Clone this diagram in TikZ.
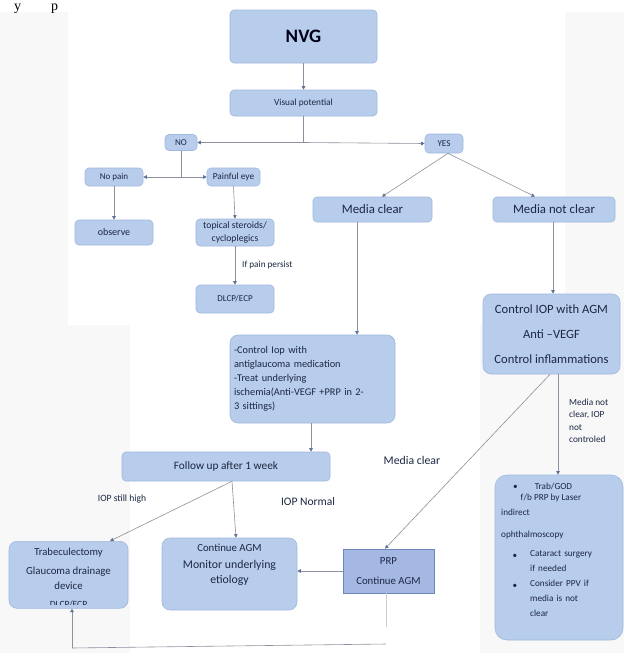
\documentclass[tikz,border=0pt]{standalone}
\usepackage{fontspec}
\setmainfont{Carlito}
\newfontfamily\serifface{Liberation Serif}
\usetikzlibrary{arrows.meta}
\definecolor{boxfill}{HTML}{B7CDEB}
\definecolor{boxline}{HTML}{A0B8DE}
\definecolor{txt}{HTML}{1C2742}
\definecolor{lin}{HTML}{8F909E}
\definecolor{tipc}{HTML}{5F7397}
\definecolor{prpfill}{HTML}{A5B8E3}
\definecolor{prpline}{HTML}{6E86BA}
\definecolor{pagebg}{HTML}{F8F8F8}
\tikzset{
  box/.style={draw=boxline, fill=boxfill, rounded corners=4pt, text=txt, align=center, inner sep=1pt, line width=0.6pt},
  bigbox/.style={box, rounded corners=8pt},
  conn/.style={draw=lin, line width=0.6pt},
  arr/.style={conn, -{Triangle[length=3.5pt,width=3.5pt,color=tipc]}},
  lbl/.style={text=txt, inner sep=0pt},
  fs/.style={font=\fontsize{#1}{12}\selectfont}
}
\begin{document}
\begin{tikzpicture}[x=1pt,y=-1pt]
\useasboundingbox (0,0) rectangle (624,653);
\fill[pagebg] (0,12) rectangle (624,653);
\fill[white] (68,12) rectangle (565,325);
\fill[white] (130,325) rectangle (480,653);
\node[lbl, font=\serifface\fontsize{14}{14}\selectfont, anchor=base west, text=black] (frag) at (14,10) {y\hspace{30pt}p};

% nodes
\node[box, minimum width=147pt, minimum height=53pt, text=black!90!blue, font=\bfseries\fontsize{19}{22}\selectfont] (nvg) at (303.5,36.5) {NVG};
\node[box, minimum width=147pt, minimum height=26pt, fs=9.3] (vp) at (303.5,103) {Visual potential};
\node[box, minimum width=32pt, minimum height=16pt, fs=9] (no) at (181,142.5) {NO};
\node[box, minimum width=38pt, minimum height=19pt, fs=9] (yes) at (444,143.5) {YES};
\node[box, minimum width=58pt, minimum height=18pt, fs=9] (nopain) at (114,177) {No pain};
\node[box, minimum width=53pt, minimum height=18pt, fs=9.3] (painful) at (233.5,177) {Painful eye};
\node[box, minimum width=78pt, minimum height=25pt, fs=10] (observe) at (114,232.5) {observe};
\node[box, minimum width=78pt, minimum height=27pt, font=\fontsize{9.7}{12.5}\selectfont] (topical) at (235,232.5) {topical steroids/\\cycloplegics};
\node[box, minimum width=78pt, minimum height=28pt, fs=9] (dlcp) at (235,299) {DLCP/ECP};
\node[lbl, fs=9.2, anchor=west] (ifpain) at (242,265) {If pain persist};
\node[box, minimum width=119pt, minimum height=25pt, fs=12.8] (mc) at (372.5,209.5) {Media clear};
\node[box, minimum width=122pt, minimum height=25pt, fs=12.8] (mnc) at (554,209.5) {Media not clear};
\node[bigbox, minimum width=137pt, minimum height=80pt, font=\fontsize{12.6}{25}\selectfont] (ctrl) at (551.5,334) {Control IOP with AGM\\Anti --VEGF\\Control inflammations};
\node[bigbox, minimum width=165pt, minimum height=88pt, text width=157pt, align=left, font=\fontsize{10.3}{14}\selectfont] (big) at (312.5,379) {-Control Iop with\\antiglaucoma medication\\-Treat underlying\\ischemia(Anti-VEGF +PRP in 2-\\3 sittings)};
\node[box, minimum width=208pt, minimum height=29pt, fs=11.3] (follow) at (226,466.5) {Follow up after 1 week};
\node[lbl, fs=9.6] (high) at (122,499) {IOP still high};
\node[lbl, fs=11.5] (normal) at (308,502) {IOP Normal};
\node[lbl, fs=11.8] (mclbl) at (412,460) {Media clear};
\node[lbl, anchor=north west, align=left, font=\fontsize{9.3}{12.3}\selectfont] (mnclbl) at (569,399) {Media not\\clear, IOP\\not\\controled};
\node[bigbox, minimum width=119pt, minimum height=67pt, anchor=north] (trab) at (68.5,541) {};
\node[lbl, font=\fontsize{10.6}{13}\selectfont] (trabt) at (68.5,553) {Trabeculectomy};
\node[lbl, font=\fontsize{10.8}{15}\selectfont, align=center] (trabg) at (68.5,578) {Glaucoma drainage\\device};
\begin{scope}
\clip (9,590) rectangle (128,604);
\node[lbl, font=\fontsize{9.5}{10}\selectfont] (trabd) at (68.5,604.5) {DLCP/ECP};
\end{scope}
\node[bigbox, minimum width=135pt, minimum height=72pt] (cagm) at (229.5,574) {};
\node[lbl, font=\fontsize{10.8}{13}\selectfont] (cagm1) at (229.5,548) {Continue AGM};
\node[lbl, font=\fontsize{11.8}{15}\selectfont, align=center] (cagm2) at (229.5,573) {Monitor underlying\\etiology};
\node[draw=prpline, fill=prpfill, text=txt, line width=0.6pt, minimum width=91pt, minimum height=44pt, align=center, font=\fontsize{10.8}{13}\selectfont] (prp) at (388.5,571) {PRP\\[7pt]Continue AGM};
\node[bigbox, rounded corners=12pt, minimum width=128pt, minimum height=165pt] (tg) at (559,557.5) {};
\node[lbl, font=\fontsize{9.2}{11}\selectfont, anchor=west] (tg1) at (513,486) {\textbullet\hspace{17pt}Trab/GOD};
\node[lbl, font=\fontsize{9.2}{11}\selectfont] (tg2) at (551,498) {f/b PRP by Laser};
\node[lbl, font=\fontsize{9.2}{11}\selectfont, anchor=west] (tg3) at (501,512) {indirect};
\node[lbl, font=\fontsize{9.2}{11}\selectfont, anchor=west] (tg4) at (501,535) {ophthalmoscopy};
\node[lbl, font=\fontsize{9.2}{15}\selectfont, anchor=north west, align=left, text width=75pt] (tg5) at (530,550) {Cataract surgery\\if needed\\Consider PPV if\\media is not\\clear};
\node[lbl, font=\fontsize{9.2}{11}\selectfont] (b1) at (515,556) {\textbullet};
\node[lbl, font=\fontsize{9.2}{11}\selectfont] (b2) at (515,586) {\textbullet};

% connectors
\draw[arr] (nvg.south) -- (vp.north);
\coordinate (j1) at (vp.south |- no.east);
\draw[conn] (vp.south) -- (j1);
\draw[arr] (j1) -- (no.east);
\draw[arr] (j1) -- (yes.west);
\coordinate (j2) at (no.south |- nopain.east);
\draw[conn] (no.south) -- (j2);
\draw[arr] (j2) -- (nopain.east);
\draw[arr] (j2) -- (painful.west);
\draw[arr] (nopain.south) -- (observe.north);
\draw[arr] (painful.south) -- (topical.north);
\draw[arr] (topical.south) -- (dlcp.north);
\draw[arr] ([xshift=4pt]yes.south) -- ([xshift=9.5pt]mc.north);
\draw[arr] ([xshift=4pt]yes.south) -- ([xshift=-19pt]mnc.north);
\draw[arr] ([xshift=-15.5pt]mc.south) -- ([xshift=44.5pt]big.north);
\draw[arr] ([xshift=-1pt]mnc.south) -- ([xshift=1.5pt]ctrl.north);
\draw[arr] ([xshift=-1.5pt]big.south) -- ([xshift=85pt]follow.north);
\coordinate (fb) at ([xshift=6pt]follow.south);
\draw[arr] (fb) -- ([xshift=41.5pt]trab.north);
\draw[arr] (fb) -- ([xshift=6.5pt]cagm.north);
\draw[arr] (prp.west) -- (prp.west -| cagm.east);
\draw[arr] ([xshift=-1.5pt]ctrl.south) -- ([xshift=-3.5pt]prp.north);
\draw[arr] ([xshift=6.5pt]ctrl.south) -- ([xshift=-1pt]tg.north);
\coordinate (pb) at ([yshift=-34pt]prp.south);
\draw[conn, draw=lin!45] ([xshift=-2pt]prp.south) -- ([xshift=-2pt]pb);
\coordinate (bl) at (386,644);
\coordinate (bc) at (72,648);
\draw[conn] (bl) -- (bc);
\draw[arr] (bc) -- (bc |- trab.south);
\end{tikzpicture}
\end{document}
